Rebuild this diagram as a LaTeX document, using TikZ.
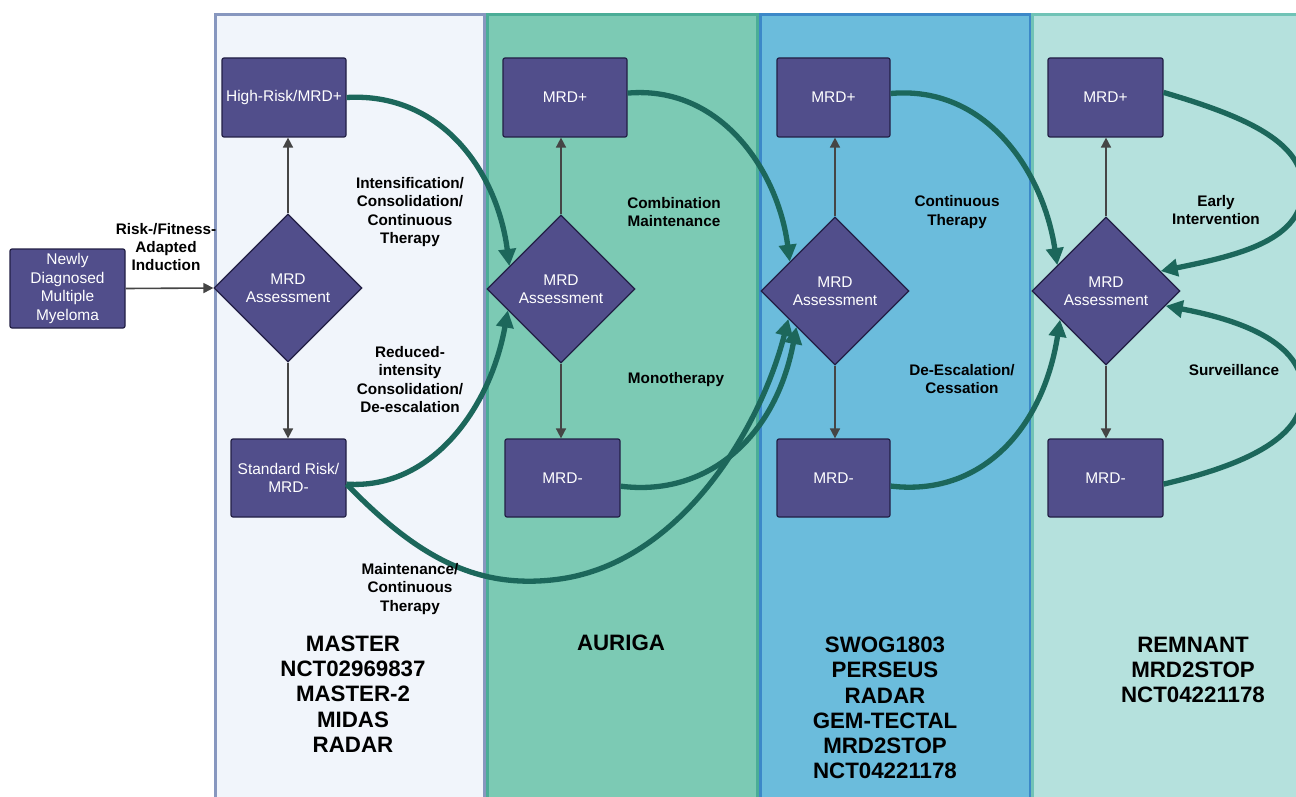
\documentclass[tikz,border=0pt]{standalone}
\usepackage{fontspec}
\setmainfont{Liberation Sans}
\usetikzlibrary{arrows.meta,shapes.geometric}

\definecolor{purp}{HTML}{514E8B}
\definecolor{purpline}{HTML}{221F45}
\definecolor{flow}{HTML}{1C675B}
\definecolor{grayarrow}{HTML}{454545}
\definecolor{laneAfill}{HTML}{F1F5FB}
\definecolor{laneAline}{HTML}{8797BF}
\definecolor{laneBfill}{HTML}{7CCAB4}
\definecolor{laneBline}{HTML}{4BAD97}
\definecolor{laneCfill}{HTML}{6BBCDC}
\definecolor{laneCline}{HTML}{3C88C8}
\definecolor{laneDfill}{HTML}{B5E1DD}
\definecolor{laneDline}{HTML}{70C3B6}

\tikzset{
  box/.style={rectangle, rounded corners=2pt, fill=purp, draw=purpline,
    line width=1.2pt, text=white, align=center, inner sep=0pt,
    font=\fontsize{15.5}{18.5}\selectfont},
  decision/.style={diamond, aspect=1, minimum width=148pt, minimum height=148pt,
    fill=purp, draw=purpline, line width=1.2pt, text=white, align=center,
    inner sep=0pt, font=\fontsize{15.5}{18.5}\selectfont},
  lbl/.style={align=center, inner sep=0pt, text=black,
    font=\bfseries\fontsize{15.3}{18.3}\selectfont},
  trials/.style={align=center, inner sep=0pt, text=black,
    font=\bfseries\fontsize{22.3}{25.3}\selectfont},
  link/.style={draw=grayarrow, line width=1.6pt,
    -{Triangle[length=10pt,width=10pt]}},
  flowarrow/.style={draw=flow, line width=5.3pt,
    -{Triangle[length=17pt,width=17pt]}},
}

\begin{document}
\begin{tikzpicture}[x=1pt,y=-1pt]
\useasboundingbox (0,0) rectangle (1296,797);

% treatment-phase lanes
\begin{scope}
  \clip (0,0) rectangle (1296,797);
  \fill[white] (0,0) rectangle (1296,797);
  \draw[fill=laneAfill, draw=laneAline, line width=3pt] (215.5,14.5) rectangle (484,820);
  \draw[fill=laneBfill, draw=laneBline, line width=3pt] (487.5,14.5) rectangle (757,820);
  \draw[fill=laneCfill, draw=laneCline, line width=3pt] (760.5,14.5) rectangle (1030,820);
  \draw[fill=laneDfill, draw=laneDline, line width=3pt] (1032.5,14.5) rectangle (1310,820);
\end{scope}

% status boxes
\node[box, minimum width=115pt, minimum height=79pt] (nd) at (67.5,288.5)
  {Newly\\Diagnosed\\Multiple\\Myeloma};
\node[box, minimum width=124pt, minimum height=79pt] (hr) at (284,97.5) {High-Risk/MRD+};
\node[box, minimum width=115pt, minimum height=78pt] (sr) at (288.5,478) {Standard Risk/\\MRD-};
\node[box, minimum width=124pt, minimum height=79pt] (p2) at (565,97.5) {MRD+};
\node[box, minimum width=115pt, minimum height=78pt] (m2) at (562.5,478) {MRD-};
\node[box, minimum width=113pt, minimum height=79pt] (p3) at (833.5,97.5) {MRD+};
\node[box, minimum width=113pt, minimum height=78pt] (m3) at (833.5,478) {MRD-};
\node[box, minimum width=115pt, minimum height=79pt] (p4) at (1105.5,97.5) {MRD+};
\node[box, minimum width=115pt, minimum height=78pt] (m4) at (1105.5,478) {MRD-};

% MRD assessment decisions
\node[decision] (d1) at (288,288) {MRD\\Assessment};
\node[decision] (d2) at (561,289) {MRD\\Assessment};
\node[decision] (d3) at (835,291) {MRD\\Assessment};
\node[decision] (d4) at (1106,291) {MRD\\Assessment};

% assessment outcomes
\draw[link] (nd.east) -- (d1.west);
\draw[link] (d1.north) -- (d1.north |- hr.south);
\draw[link] (d1.south) -- (d1.south |- sr.north);
\draw[link] (d2.north) -- (d2.north |- p2.south);
\draw[link] (d2.south) -- (d2.south |- m2.north);
\draw[link] (d3.north) -- (d3.north |- p3.south);
\draw[link] (d3.south) -- (d3.south |- m3.north);
\draw[link] (d4.north) -- (d4.north |- p4.south);
\draw[link] (d4.south) -- (d4.south |- m4.north);

% therapy transitions
\draw[flowarrow] (hr.east) .. controls (440,92) and (497,170) .. (d2.156);
\draw[flowarrow] (sr.-6) .. controls (430,490) and (490,410) .. (d2.202);
\draw[flowarrow] (sr.-6) .. controls (420,560) and (480,590) .. (560,579)
  .. controls (680,562) and (760,430) .. (d3.211);
\draw[flowarrow] (p2.4) .. controls (720,85) and (778,170) .. (d3.147);
\draw[flowarrow] (m2.-8) .. controls (705,497) and (775,440) .. (d3.223);
\draw[flowarrow] (p3.4) .. controls (985,85) and (1043,170) .. (d4.152);
\draw[flowarrow] (m3.-8) .. controls (980,497) and (1043,430) .. (d4.212);
\draw[flowarrow] (p4.5) .. controls (1240,115) and (1303,140) .. (1303,188)
  .. controls (1303,240) and (1240,255) .. (d4.20);
\draw[flowarrow] (m4.-6) .. controls (1240,466) and (1303,440) .. (1303,392)
  .. controls (1303,342) and (1240,320) .. (d4.346);

% transition labels
\node[lbl] (lInd) at (166,247) {Risk-/Fitness-\\Adapted\\Induction};
\node[lbl] (lInt) at (410,212) {Intensification/\\Consolidation/\\Continuous\\Therapy};
\node[lbl] (lRed) at (410,379.5) {Reduced-\\intensity\\Consolidation/\\De-escalation};
\node[lbl] (lMnt) at (410,589) {Maintenance/\\Continuous\\Therapy};
\node[lbl] (lCmb) at (674,212) {Combination\\Maintenance};
\node[lbl] (lMon) at (676,380) {Monotherapy};
\node[lbl] (lCon) at (957,212) {Continuous\\Therapy};
\node[lbl] (lDes) at (962,379) {De-Escalation/\\Cessation};
\node[lbl] (lEar) at (1216,210) {Early\\Intervention};
\node[lbl] (lSur) at (1234,370) {Surveillance};

% trials per lane
\node[trials] (tA) at (353,694) {MASTER\\NCT02969837\\MASTER-2\\MIDAS\\RADAR};
\node[trials] (tB) at (621,643) {AURIGA};
\node[trials] (tC) at (885,708) {SWOG1803\\PERSEUS\\RADAR\\GEM-TECTAL\\MRD2STOP\\NCT04221178};
\node[trials] (tD) at (1193,670) {REMNANT\\MRD2STOP\\NCT04221178};
\end{tikzpicture}
\end{document}
